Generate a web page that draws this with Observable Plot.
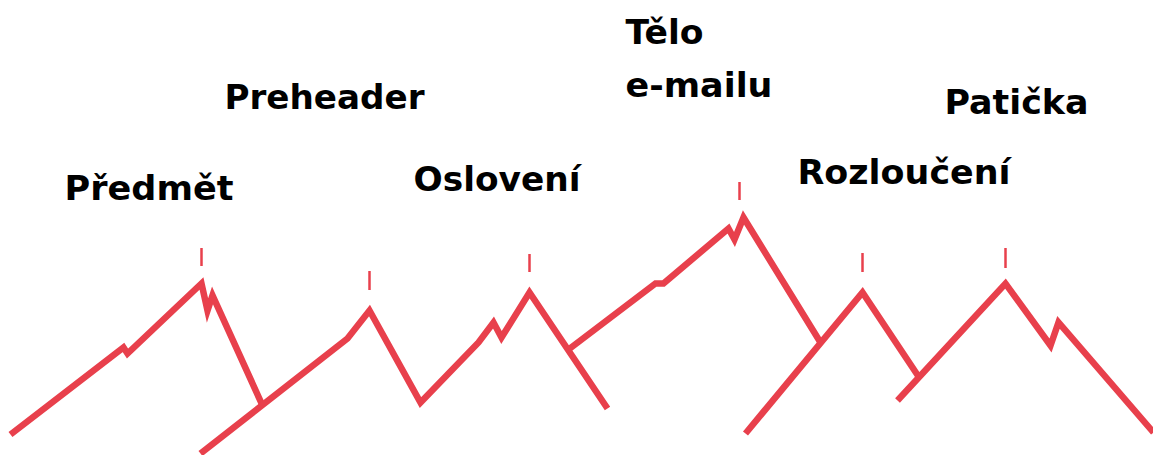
<!DOCTYPE html>
<html>
<head>
<meta charset="utf-8">
<script src="https://cdn.jsdelivr.net/npm/d3@7"></script>
<script src="https://cdn.jsdelivr.net/npm/@observablehq/plot@0.6"></script>
<style>
  html, body { margin: 0; padding: 0; background: #ffffff; }
  #chart svg { display: block; }
</style>
</head>
<body>
<div id="chart"></div>
<script>
// ---- Data (x along the strip, elevation measured up from the bottom) ----
const ridgePredmet   = [[10, 21], [123, 108], [127, 102], [201, 172], [207, 145], [212, 160], [262, 50]];
const ridgePreheader = [[200, 2], [347, 117], [369, 145], [420, 53], [478, 113], [493, 133], [501, 118], [529, 163], [607, 47]];
const ridgeTelo      = [[568, 106], [655, 172], [663, 172], [728, 227], [734, 216], [743, 238], [820, 113]];
const ridgeRozlouceni = [[745, 22], [862, 163], [918, 79]];
const ridgePaticka   = [[897, 55], [1005, 172], [1050, 110], [1058, 133], [1153, 23]];

const peakTickX    = [201, 369, 529, 739, 862, 1005];
const peakTickLow  = [189, 165, 183, 255, 183, 187];
const peakTickHigh = [207, 184, 201, 273, 202, 207];

const labelText     = ["Předmět", "Preheader", "Oslovení", "Tělo", "e-mailu", "Rozloučení", "Patička"];
const labelX        = [64, 224, 413, 625, 625, 797, 944];
const labelBaseline = [256, 347, 265, 412, 359, 272, 342];

// ---- Styling (kept apart from the data) ----
const labelWidths = [169, 200, 167, 78, 147, 213, 144];
const red = "#e8404c";

const ridgeRows = [
  ["Předmět", ridgePredmet],
  ["Preheader", ridgePreheader],
  ["Tělo e-mailu", ridgeTelo],
  ["Rozloučení", ridgeRozlouceni],
  ["Patička", ridgePaticka]
].flatMap(([name, pts]) => pts.map(([x, e]) => ({name, x, e})));

const ticks = peakTickX.map((x, i) => ({x, lo: peakTickLow[i], hi: peakTickHigh[i]}));
const labels = labelText.map((t, i) => ({t, x: labelX[i], b: labelBaseline[i]}));

const chart = Plot.plot({
  width: 1153,
  height: 455,
  margin: 0,
  x: {domain: [0, 1153], axis: null},
  y: {domain: [0, 455], axis: null},
  style: {background: "#ffffff", overflow: "hidden"},
  marks: [
    Plot.line(ridgeRows, {
      x: "x", y: "e", z: "name",
      stroke: red, strokeWidth: 6.5,
      strokeLinejoin: "miter", strokeLinecap: "butt", strokeMiterlimit: 10,
      curve: "linear"
    }),
    Plot.ruleX(ticks, {x: "x", y1: "lo", y2: "hi", stroke: red, strokeWidth: 2.5}),
    Plot.text(labels, {
      x: "x", y: "b", text: "t",
      textAnchor: "start", lineAnchor: "bottom",
      fontSize: 33, fontWeight: 700,
      fontFamily: "'DejaVu Sans', 'Open Sans', sans-serif",
      fill: "#000000"
    })
  ]
});

// stretch the label widths to the reference's (wider) typeface
d3.select(chart).selectAll("text").each(function(d, i) {
  if (i < labelWidths.length) {
    this.setAttribute("textLength", labelWidths[i]);
    this.setAttribute("lengthAdjust", "spacingAndGlyphs");
  }
});

document.getElementById("chart").appendChild(chart);
</script>
</body>
</html>
